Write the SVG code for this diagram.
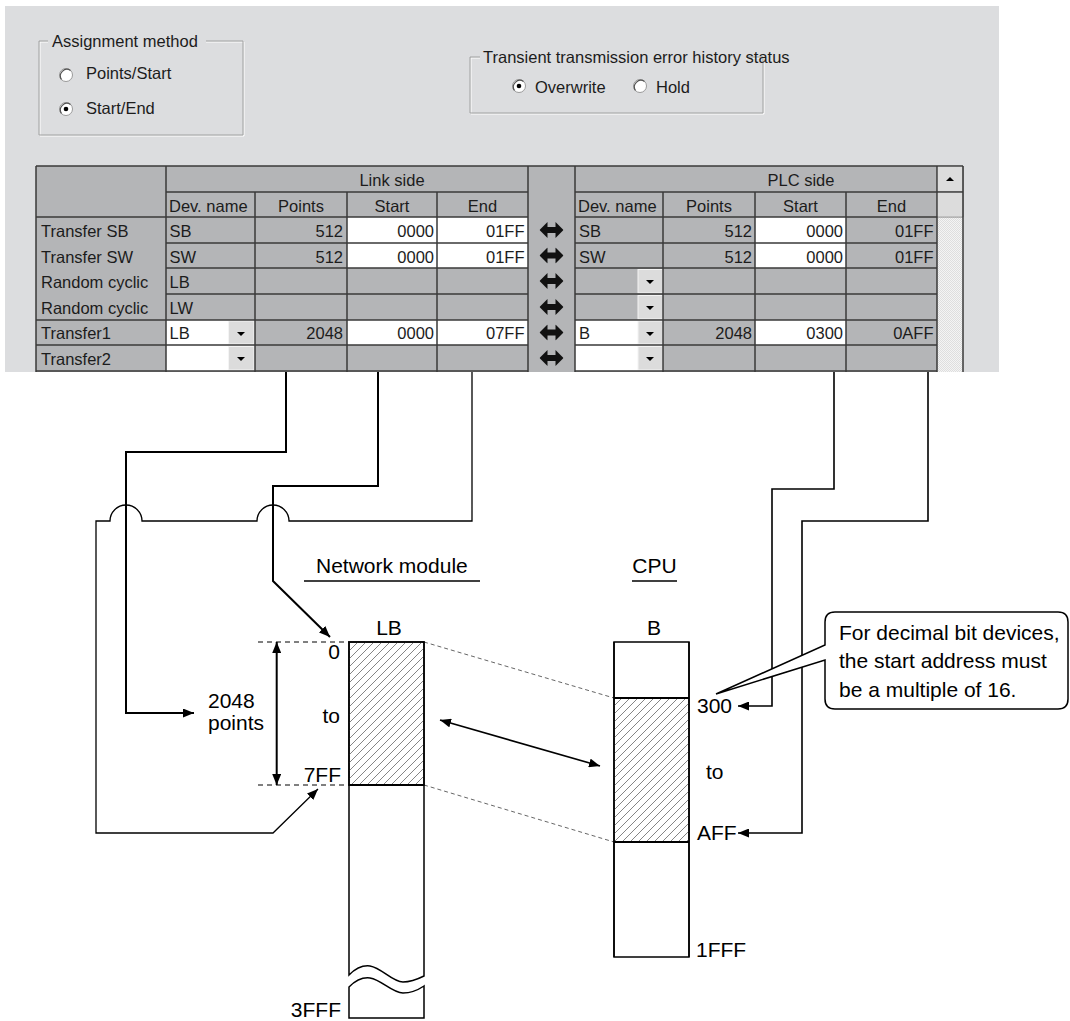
<svg xmlns="http://www.w3.org/2000/svg" width="1070" height="1021" viewBox="0 0 1070 1021">
<style>
.ui{font-family:"Liberation Sans",Arial,sans-serif;font-size:16.5px;fill:#1c1c1c}
.r{text-anchor:end}
.m{text-anchor:middle}
.lbl{font-family:"Liberation Sans",Arial,sans-serif;font-size:21px;fill:#000}
.grid{stroke:#3a3a3a;stroke-width:1.5;fill:none}
.wc{fill:#fff}
.btn{fill:#dcdcdc;stroke:#f4f4f4;stroke-width:1}
.thick{fill:none;stroke:#000;stroke-width:2}
.thin{fill:none;stroke:#000;stroke-width:1.3}
.med{fill:none;stroke:#000;stroke-width:1.6}
.blk{fill:#fff;stroke:#000;stroke-width:1.5}
.etch{fill:none;stroke:#a0a0a0;stroke-width:1}
.hl{fill:none;stroke:#fff;stroke-width:1}
</style>
<defs>
<marker id="ah" viewBox="0 0 11 9" refX="11" refY="4.5" markerWidth="11" markerHeight="9" markerUnits="userSpaceOnUse" orient="auto-start-reverse"><path d="M0,0 L11,4.5 L0,9 Z" fill="#000"/></marker>
<pattern id="hatch" width="8" height="8" patternUnits="userSpaceOnUse"><path d="M-1,1 L1,-1 M0,8 L8,0 M7,9 L9,7" stroke="#666" stroke-width="0.8"/></pattern>
<pattern id="dots" width="2" height="2" patternUnits="userSpaceOnUse"><rect width="2" height="2" fill="#f4f4f4"/><rect width="1" height="1" fill="#dedede"/><rect x="1" y="1" width="1" height="1" fill="#dedede"/></pattern>
<symbol id="dbl" viewBox="0 0 24 16"><path d="M0,8 L8,0 V5 H16 V0 L24,8 L16,16 V11 H8 V16 Z" fill="#111"/></symbol>
<path id="tri" d="M-4,-2 H4 L0,2 Z" fill="#000"/>
</defs>
<rect width="1070" height="1021" fill="#fff"/>

<g id="screenshot">
<rect x="5" y="6" width="994" height="366" fill="#dcdddf"/>
<g id="assignment-method">
<path class="hl" d="M48,42 H40 V136 H244 V42 H206"/>
<path class="etch" d="M48,41 H39 V135 H243 V41 H206"/>
<text class="ui" x="52" y="47">Assignment method</text>
<circle cx="66" cy="75" r="6.5" fill="#fff" stroke="#9a9a9a"/>
<path d="M61.5,79.5 A6.5,6.5 0 0 1 70.5,70.5" fill="none" stroke="#555" stroke-width="1.2"/>
<text class="ui" x="86" y="79">Points/Start</text>
<circle cx="66" cy="109" r="6.5" fill="#fff" stroke="#9a9a9a"/>
<path d="M61.5,113.5 A6.5,6.5 0 0 1 70.5,104.5" fill="none" stroke="#555" stroke-width="1.2"/>
<circle cx="66" cy="109" r="2.3" fill="#000"/>
<text class="ui" x="86" y="114">Start/End</text>
</g>
<g id="transient-status">
<path class="hl" d="M480,58 H471 V114 H764 V58 H746"/>
<path class="etch" d="M480,57 H470 V113 H763 V57 H746"/>
<text class="ui" x="483" y="63">Transient transmission error history status</text>
<circle cx="519" cy="86" r="6.5" fill="#fff" stroke="#9a9a9a"/>
<path d="M514.5,90.5 A6.5,6.5 0 0 1 523.5,81.5" fill="none" stroke="#555" stroke-width="1.2"/>
<circle cx="519" cy="86" r="2.3" fill="#000"/>
<text class="ui" x="535" y="93">Overwrite</text>
<circle cx="640" cy="86" r="6.5" fill="#fff" stroke="#9a9a9a"/>
<path d="M635.5,90.5 A6.5,6.5 0 0 1 644.5,81.5" fill="none" stroke="#555" stroke-width="1.2"/>
<text class="ui" x="656" y="93">Hold</text>
</g>

<g id="table">
<rect x="36" y="166" width="901" height="206" fill="#b4b5b7"/>
<rect class="wc" x="347" y="217" width="181" height="26"/>
<rect class="wc" x="347" y="243" width="181" height="25"/>
<rect class="wc" x="347" y="320" width="181" height="25"/>
<rect class="wc" x="755" y="217" width="91" height="26"/>
<rect class="wc" x="755" y="243" width="91" height="25"/>
<rect class="wc" x="755" y="320" width="91" height="25"/>
<rect class="wc" x="166" y="320" width="89" height="51"/>
<rect class="wc" x="575" y="320" width="88" height="51"/>
<rect class="btn" x="228.5" y="321" width="25.5" height="23"/>
<rect class="btn" x="228.5" y="346.5" width="25.5" height="23.5"/>
<rect class="btn" x="638" y="269.5" width="24.5" height="23.5"/>
<rect class="btn" x="638" y="295.5" width="24.5" height="23.5"/>
<rect class="btn" x="638" y="321" width="24.5" height="23"/>
<rect class="btn" x="638" y="346.5" width="24.5" height="23.5"/>
<use href="#tri" x="241" y="334"/>
<use href="#tri" x="241" y="359"/>
<use href="#tri" x="650" y="282"/>
<use href="#tri" x="650" y="308"/>
<use href="#tri" x="650" y="334"/>
<use href="#tri" x="650" y="359"/>
<rect x="937" y="217" width="26" height="155" fill="url(#dots)"/>
<rect x="937.5" y="166.5" width="25" height="25" fill="#dcdcdc" stroke="#fff"/>
<path d="M937,192 H963 V166" fill="none" stroke="#808080"/>
<path d="M946,181 H954 L950,177 Z" fill="#000"/>
<rect x="937.5" y="192.5" width="25" height="24" fill="#dcdcdc" stroke="#fff"/>
<path d="M937,217 H963 V192" fill="none" stroke="#808080"/>
<path class="grid" d="M36,166 H963 M36,166 V372 M166,166 V372 M528,166 V372 M575,166 V372 M937,166 V372 M963,166 V372
M166,192 H528 M575,192 H963
M255,192 V372 M347,192 V372 M437,192 V372 M663,192 V372 M755,192 V372 M846,192 V372
M36,217 H528 M575,217 H937
M166,243 H528 M575,243 H937
M166,268 H528 M575,268 H937
M166,294 H528 M575,294 H937
M36,320 H528 M575,320 H937
M36,345 H528 M575,345 H937
M36,371 H528 M575,371 H937"/>
<use href="#dbl" x="539.5" y="222" width="24" height="16"/>
<use href="#dbl" x="539.5" y="247.5" width="24" height="16"/>
<use href="#dbl" x="539.5" y="273" width="24" height="16"/>
<use href="#dbl" x="539.5" y="299" width="24" height="16"/>
<use href="#dbl" x="539.5" y="324.5" width="24" height="16"/>
<use href="#dbl" x="539.5" y="350" width="24" height="16"/>
<text class="ui m" x="392" y="186">Link side</text>
<text class="ui m" x="801" y="186">PLC side</text>
<text class="ui" x="169" y="211.5">Dev. name</text>
<text class="ui m" x="301" y="211.5">Points</text>
<text class="ui m" x="392" y="211.5">Start</text>
<text class="ui m" x="482.5" y="211.5">End</text>
<text class="ui" x="578" y="211.5">Dev. name</text>
<text class="ui m" x="709" y="211.5">Points</text>
<text class="ui m" x="800.5" y="211.5">Start</text>
<text class="ui m" x="891.5" y="211.5">End</text>
<text class="ui" x="41" y="237">Transfer SB</text>
<text class="ui" x="41" y="262.5">Transfer SW</text>
<text class="ui" x="41" y="288">Random cyclic</text>
<text class="ui" x="41" y="313.5">Random cyclic</text>
<text class="ui" x="41" y="339">Transfer1</text>
<text class="ui" x="41" y="364.5">Transfer2</text>
<text class="ui" x="169.5" y="237">SB</text>
<text class="ui" x="169.5" y="262.5">SW</text>
<text class="ui" x="169.5" y="288">LB</text>
<text class="ui" x="169.5" y="313.5">LW</text>
<text class="ui" x="169.5" y="339">LB</text>
<text class="ui r" x="343" y="237">512</text>
<text class="ui r" x="343" y="262.5">512</text>
<text class="ui r" x="343" y="339">2048</text>
<text class="ui r" x="434" y="237">0000</text>
<text class="ui r" x="434" y="262.5">0000</text>
<text class="ui r" x="434" y="339">0000</text>
<text class="ui r" x="524.5" y="237">01FF</text>
<text class="ui r" x="524.5" y="262.5">01FF</text>
<text class="ui r" x="524.5" y="339">07FF</text>
<text class="ui" x="579" y="237">SB</text>
<text class="ui" x="579" y="262.5">SW</text>
<text class="ui" x="579" y="339">B</text>
<text class="ui r" x="752" y="237">512</text>
<text class="ui r" x="752" y="262.5">512</text>
<text class="ui r" x="752" y="339">2048</text>
<text class="ui r" x="843" y="237">0000</text>
<text class="ui r" x="843" y="262.5">0000</text>
<text class="ui r" x="843" y="339">0300</text>
<text class="ui r" x="933.5" y="237">01FF</text>
<text class="ui r" x="933.5" y="262.5">01FF</text>
<text class="ui r" x="933.5" y="339">0AFF</text>
</g>
</g>

<g id="connectors">
<path class="thick" d="M286,372 V452 H126 V713 H194" marker-end="url(#ah)"/>
<path class="thick" d="M378,372 V486 H273 V581 L330,637" marker-end="url(#ah)"/>
<path class="thin" d="M472,372 V521 H289 A16,16 0 0 0 257,521 H142 A16,16 0 0 0 110,521 H96 V833 H273 L318,789" marker-end="url(#ah)"/>
<path class="med" d="M834,372 V489 H772 V706 H738" marker-end="url(#ah)"/>
<path class="med" d="M928,372 V521 H802 V833 H738" marker-end="url(#ah)"/>
<path class="thick" d="M276.7,642 V785" marker-start="url(#ah)" marker-end="url(#ah)"/>
<path class="med" d="M440,720 L600,766" marker-start="url(#ah)" marker-end="url(#ah)"/>
<path d="M258,642 H349 M258,785 H349" fill="none" stroke="#000" stroke-width="1" stroke-dasharray="5 4"/>
<path d="M424,642 L614,698 M424,785 L614,842" fill="none" stroke="#555" stroke-width="0.9" stroke-dasharray="4 3"/>
</g>

<g id="network-module">
<text class="lbl" x="316" y="573">Network module</text>
<path d="M304,581 H480" stroke="#000" stroke-width="1.5"/>
<text class="lbl m" x="389" y="635">LB</text>
<path class="blk" d="M349,975 V642 H424 V976 C418,979 412,982 403,982 C392,982 382,968 370,966 C362,965 356,968 349,975 Z"/>
<rect x="349" y="642" width="75" height="143" fill="url(#hatch)"/>
<path d="M349,642 H424 V785 H349 Z" fill="none" stroke="#000" stroke-width="1.5"/>
<path d="M349,785 H424" stroke="#000" stroke-width="2"/>
<path class="blk" d="M349,987 C356,980 362,977 370,978 C382,980 392,993 403,993 C412,993 418,990 424,986 V1018 H349 Z"/>
<text class="lbl r" x="340" y="659">0</text>
<text class="lbl r" x="340" y="723">to</text>
<text class="lbl r" x="341" y="782">7FF</text>
<text class="lbl r" x="341" y="1017">3FFF</text>
<text class="lbl" x="208" y="708">2048</text>
<text class="lbl" x="208" y="730">points</text>
</g>

<g id="cpu">
<text class="lbl m" x="654.5" y="573">CPU</text>
<path d="M632,581 H677" stroke="#000" stroke-width="1.5"/>
<text class="lbl m" x="654" y="635">B</text>
<rect class="blk" x="614" y="642" width="75" height="315"/>
<rect x="614" y="698" width="75" height="144" fill="url(#hatch)"/>
<path d="M614,698 H689 M614,842 H689" stroke="#000" stroke-width="2"/>
<path d="M614,642 V957 M689,642 V957" stroke="#000" stroke-width="1.5"/>
<text class="lbl" x="697" y="713">300</text>
<text class="lbl" x="706" y="779">to</text>
<text class="lbl" x="697" y="840">AFF</text>
<text class="lbl" x="696" y="957">1FFF</text>
</g>

<g id="callout">
<path d="M835,612 H1058 Q1068,612 1068,622 V699 Q1068,709 1058,709 H835 Q825,709 825,699 V660 L716,694 L825,645 V622 Q825,612 835,612 Z" fill="#fff" stroke="#000" stroke-width="1.5"/>
<text class="lbl" x="839" y="640">For decimal bit devices,</text>
<text class="lbl" x="839" y="668">the start address must</text>
<text class="lbl" x="839" y="697">be a multiple of 16.</text>
</g>
</svg>
